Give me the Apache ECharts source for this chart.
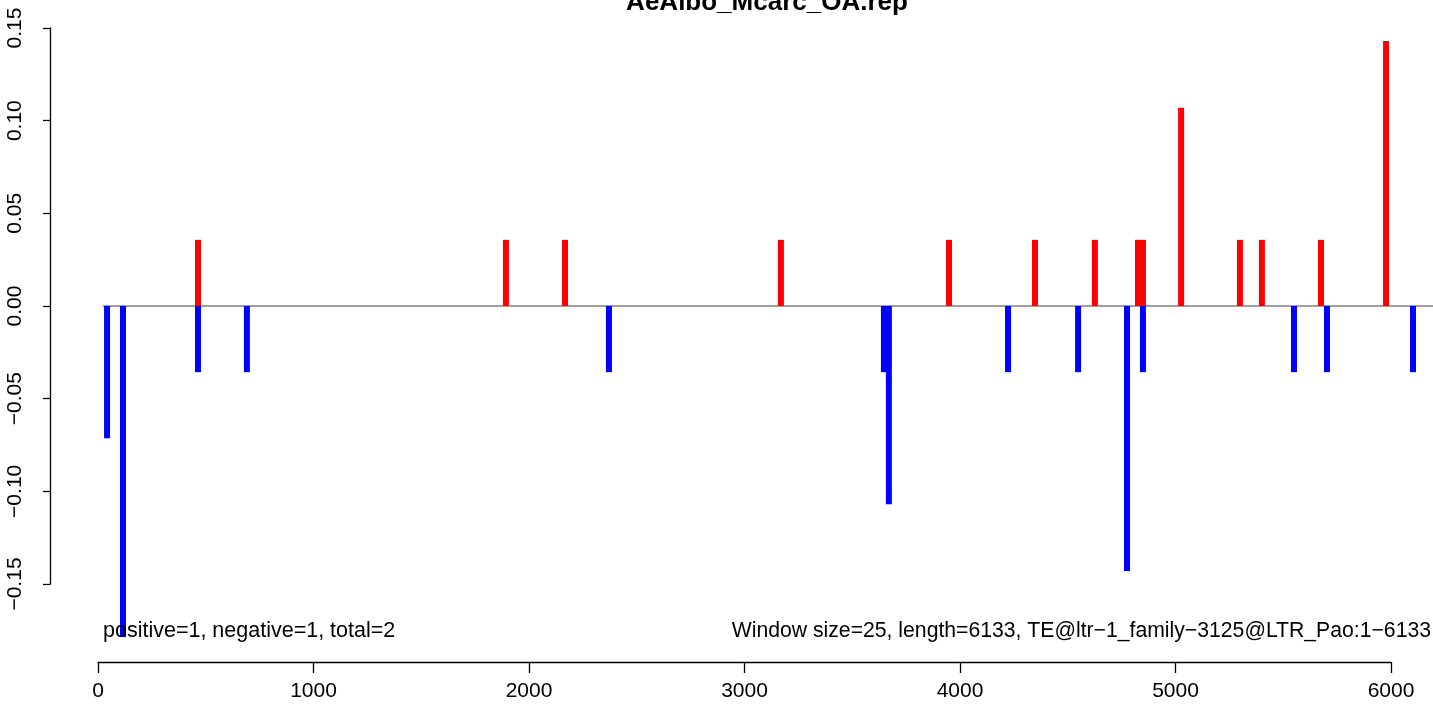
<!DOCTYPE html>
<html>
<head>
<meta charset="utf-8">
<script src="https://cdn.jsdelivr.net/npm/echarts@6/dist/echarts.min.js"></script>
<style>
html,body{margin:0;padding:0;background:#fff;}
#chart{width:1433px;height:708px;}
</style>
</head>
<body>
<div id="chart"></div>
<script>
// ---- data ----
const titleText = "AeAlbo_Mcarc_OA.rep";
const leftNote = "positive=1, negative=1, total=2";
const rightNote = "Window size=25, length=6133, TE@ltr\u22121_family\u22123125@LTR_Pao:1\u22126133";

// positions (bp) and values of red (positive) bars
const posX = [464, 1893, 2167, 3169, 3949, 4348, 4626, 4826, 4849, 5026, 5299, 5401, 5675, 5977];
const posY = [0.0357, 0.0357, 0.0357, 0.0357, 0.0357, 0.0357, 0.0357, 0.0357, 0.0357, 0.107, 0.0357, 0.0357, 0.0357, 0.143];
// positions (bp) and values of blue (negative) bars
const negX = [42, 116, 464, 691, 2371, 3647, 3670, 4223, 4548, 4775, 4849, 5550, 5703, 6102];
const negY = [-0.0714, -0.1786, -0.0357, -0.0357, -0.0357, -0.0357, -0.107, -0.0357, -0.0357, -0.143, -0.0357, -0.0357, -0.0357, -0.0357];

const xTicks = [0, 1000, 2000, 3000, 4000, 5000, 6000];
const yTicks = [-0.15, -0.10, -0.05, 0.00, 0.05, 0.10, 0.15];
const zeroLineX = [23, 6195];

// ---- chart ----
const FONT = "'Liberation Sans', Arial, Helvetica, sans-serif";
const chart = echarts.init(document.getElementById('chart'), null, {renderer: 'canvas'});

const posData = posX.map((x, i) => [x, posY[i]]);
const negData = negX.map((x, i) => [x, negY[i]]);
const zeroData = zeroLineX.map(x => [x, 0]);

const option = {
  backgroundColor: '#ffffff',
  animation: false,
  grid: [
    {left: 50, right: 0, top: 28, height: 556, containLabel: false},
    {left: 98, width: 1293, top: 661, height: 1, containLabel: false}
  ],
  xAxis: [
    {
      type: 'value', gridIndex: 0, min: -222.7, max: 6194.9,
      show: false, splitLine: {show: false}
    },
    {
      type: 'value', gridIndex: 1, min: xTicks[0], max: xTicks[xTicks.length - 1], interval: 1000,
      position: 'bottom',
      axisLine: {show: true, onZero: false, lineStyle: {color: '#000', width: 1.3}},
      axisTick: {show: true, length: 11, lineStyle: {color: '#000', width: 1.3}},
      axisLabel: {show: true, color: '#000', fontSize: 21, fontFamily: FONT, margin: 19,
        formatter: v => String(v)},
      splitLine: {show: false}
    }
  ],
  yAxis: [
    {
      type: 'value', gridIndex: 0, min: yTicks[0], max: yTicks[yTicks.length - 1], interval: 0.05,
      axisLine: {show: true, onZero: false, lineStyle: {color: '#000', width: 1.3}},
      axisTick: {show: true, length: 7, lineStyle: {color: '#000', width: 1.3}},
      axisLabel: {show: true, rotate: 90, color: '#000', fontSize: 21, fontFamily: FONT, margin: 24,
        formatter: v => v.toFixed(2).replace('-', '\u2212')},
      splitLine: {show: false}
    },
    {
      type: 'value', gridIndex: 1, show: false, min: 0, max: 1
    }
  ],
  series: [
    {
      type: 'line', xAxisIndex: 0, yAxisIndex: 0, data: zeroData,
      symbol: 'none', silent: true, clip: false,
      lineStyle: {color: '#808080', width: 1.3}, z: 1
    },
    {
      type: 'bar', xAxisIndex: 0, yAxisIndex: 0, data: posData,
      barWidth: 6, barGap: '-100%', clip: false,
      itemStyle: {color: '#ff0000'}, z: 2
    },
    {
      type: 'bar', xAxisIndex: 0, yAxisIndex: 0, data: negData,
      barWidth: 6, barGap: '-100%', clip: false,
      itemStyle: {color: '#0000ff'}, z: 2
    }
  ],
  graphic: [
    {
      type: 'text', z: 10,
      style: {text: titleText, x: 767, y: 3, fill: '#000', font: 'bold 26px ' + FONT,
        textAlign: 'center', textVerticalAlign: 'middle'}
    },
    {
      type: 'text', z: 10,
      style: {text: leftNote, x: 103, y: 631, fill: '#000', font: '21.5px ' + FONT,
        textAlign: 'left', textVerticalAlign: 'middle'}
    },
    {
      type: 'text', z: 10,
      style: {text: rightNote, x: 1431, y: 631, fill: '#000', font: '21.2px ' + FONT,
        textAlign: 'right', textVerticalAlign: 'middle'}
    }
  ]
};
chart.setOption(option);
</script>
</body>
</html>
